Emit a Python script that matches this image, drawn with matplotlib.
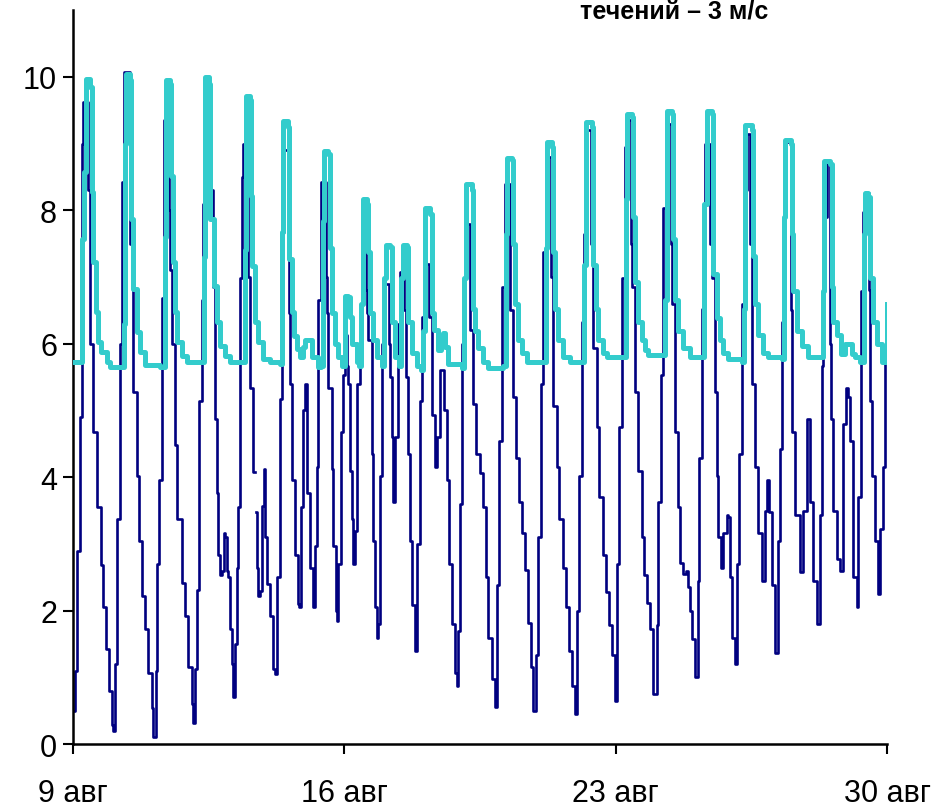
import numpy as np
import matplotlib
matplotlib.use("Agg")
import matplotlib.pyplot as plt

plt.rcParams['font.family'] = ['Liberation Sans', 'DejaVu Sans']

##### Data (time in days from 9 Aug 00:00)
navy_days = [
    0.00, 0.05, 0.10, 0.18, 0.23, 0.26, 0.39, 0.44, 0.52, 0.62, 0.72, 0.77,
    0.85, 0.93, 1.01, 1.03, 1.08, 1.14, 1.21, 1.26, 1.32, 1.47, 1.52, 1.55,
    1.65, 1.70, 1.78, 1.86, 1.94, 2.04, 2.06, 2.14, 2.17, 2.22, 2.30, 2.35,
    2.48, 2.50, 2.55, 2.63, 2.68, 2.81, 2.89, 2.97, 3.07, 3.10, 3.15, 3.20,
    3.25, 3.33, 3.35, 3.41, 3.53, 3.61, 3.66, 3.72, 3.74, 3.79, 3.84, 3.90,
    3.92, 3.97, 4.00, 4.05, 4.10, 4.13, 4.18, 4.23, 4.26, 4.31, 4.36, 4.39,
    4.52, 4.57, 4.64, 4.70, 4.72, 4.75, 4.77, 4.82, 4.88, 4.93, 4.95, 5.01,
    5.08, 5.16, 5.21, 5.26, 5.34, 5.39, 5.44, 5.55, 5.57, 5.60, 5.65, 5.73,
    5.81, 5.83, 5.88, 5.93, 5.99, 6.04, 6.11, 6.19, 6.24, 6.30, 6.32, 6.40,
    6.53, 6.55, 6.58, 6.68, 6.71, 6.79, 6.81, 6.84, 6.91, 6.97, 7.02, 7.07,
    7.10, 7.15, 7.20, 7.22, 7.28, 7.33, 7.40, 7.46, 7.56, 7.59, 7.61, 7.71,
    7.74, 7.79, 7.84, 7.87, 7.92, 7.97, 8.05, 8.15, 8.18, 8.23, 8.26, 8.31,
    8.39, 8.44, 8.54, 8.59, 8.64, 8.69, 8.75, 8.82, 8.88, 8.95, 9.00, 9.08,
    9.18, 9.26, 9.34, 9.39, 9.47, 9.57, 9.65, 9.70, 9.78, 9.86, 9.91, 9.93,
    9.98, 10.04, 10.11, 10.24, 10.32, 10.40, 10.50, 10.58, 10.66, 10.71,
    10.81, 10.89, 10.94, 10.99, 11.07, 11.15, 11.27, 11.35, 11.43, 11.51,
    11.58, 11.66, 11.74, 11.82, 11.87, 11.95, 12.00, 12.07, 12.13, 12.23,
    12.33, 12.38, 12.49, 12.54, 12.64, 12.72, 12.80, 12.87, 12.95, 13.00,
    13.05, 13.13, 13.18, 13.26, 13.36, 13.42, 13.52, 13.57, 13.67, 13.75,
    13.83, 13.91, 13.98, 14.04, 14.09, 14.16, 14.24, 14.29, 14.40, 14.42,
    14.50, 14.58, 14.68, 14.73, 14.81, 14.89, 14.96, 15.07, 15.09, 15.17,
    15.22, 15.33, 15.43, 15.45, 15.53, 15.61, 15.66, 15.74, 15.82, 15.87,
    15.92, 15.97, 16.05, 16.13, 16.15, 16.23, 16.31, 16.43, 16.49, 16.56,
    16.62, 16.64, 16.72, 16.77, 16.87, 16.90, 16.95, 17.00, 17.08, 17.13,
    17.18, 17.26, 17.31, 17.39, 17.47, 17.52, 17.60, 17.67, 17.78, 17.85,
    17.91, 17.96, 18.03, 18.11, 18.19, 18.24, 18.29, 18.34, 18.40, 18.52,
    18.55, 18.63, 18.76, 18.83, 18.94, 19.01, 19.09, 19.20, 19.27, 19.32,
    19.35, 19.45, 19.53, 19.56, 19.61, 19.71, 19.79, 19.87, 19.94, 20.00,
    20.05, 20.12, 20.23, 20.25, 20.33, 20.38, 20.43, 20.54, 20.56, 20.61,
    20.69, 20.77, 20.82, 20.90, 20.95, 21.00]
navy_vals = [
    0.5, 1.1, 2.9, 4.9, 9.0, 9.62, 8.3, 6.0, 4.68, 3.56, 2.68, 2.05,
    1.43, 0.8, 0.28, 0.2, 1.2, 3.37, 6.0, 8.43, 10.07, 7.5, 6.85, 5.27,
    4.02, 3.04, 2.22, 1.72, 1.07, 0.54, 0.11, 1.1, 2.7, 3.96, 6.69, 9.35,
    8.0, 7.11, 6.0, 4.48, 3.37, 2.41, 1.92, 1.16, 0.6, 0.31, 1.13, 2.31,
    5.14, 6.65, 8.1, 9.87, 8.3, 6.85, 4.88, 3.76, 2.84, 2.54, 2.6, 3.17,
    3.1, 2.6, 2.5, 1.72, 1.2, 0.7, 1.5, 2.64, 3.56, 6.98, 8.5, 9.0,
    7.0, 5.34, 4.08, np.nan, 3.48, 2.64, 2.22, 2.3, 3.57, 4.12, 3.1, 2.4,
    1.92, 1.12, 1.05, 2.5, 5.17, 7.67, 8.9, 7.5, 6.46, 5.4, 3.96, 2.84,
    2.1, 2.05, 3.56, 5.0, 5.4, 3.76, 2.64, 2.05, 2.97, 4.16, 6.65, 8.43,
    7.0, 6.46, 5.34, 4.12, 2.97, 2.0, 1.85, 2.7, 4.68, 5.53, 6.13, 5.67,
    5.4, 4.09, 3.37, 2.7, 3.2, 5.4, 6.52, 7.4, 6.8, 6.46, 6.06, 4.35,
    3.04, 2.05, 1.59, 1.8, 4.02, 6.0, 6.9, 6.0, 5.5, 4.6, 3.63, 4.6,
    6.3, 7.08, 6.5, 5.5, 4.35, 3.04, 2.08, 1.39, 3.0, 5.14, 6.4, 7.2,
    6.4, 4.94, 4.16, 4.6, 5.6, 5.0, 3.96, 2.7, 1.8, 1.07, 0.87, 1.7,
    3.6, 6.0, 7.8, 6.2, 5.1, 4.35, 4.06, 3.56, 2.5, 1.59,
    0.97, 0.55, 2.38, 4.55, 6.85, 8.4, 6.5, 5.2, 4.29, 3.63,
    3.17, 2.61, 1.82, 1.16, 0.5, 1.33, 3.1, 5.4, 7.38, 8.8,
    7.0, 5.07, 4.16, 3.37, 2.64, 2.05, 1.39, 0.87, 0.45, 1.99,
    4.02, 6.32, 7.64, 9.2, 7.5, 5.93, 4.75, 3.7, 2.84, 2.28,
    1.79, 1.33, 0.65, 2.7, 4.75, 6.98, 8.95, 9.35, 7.5, 6.85,
    5.27, 4.09, 3.1, 2.54, 2.12, 1.72, 0.75, 1.79, 3.63, 5.53,
    8.03, 9.3, 7.5, 6.59, 4.68, 3.56, 2.71, 2.55, 2.6, 2.35,
    2.0, 1.57, 1.0, 2.45, 4.29, 6.52, 9.0, 7.5, 6.98, 5.27,
    4.02, 3.1, 2.64, 3.17, 3.43, 3.4, 2.51, 1.59, 1.2, 2.7,
    4.35, 6.59, 8.3, 9.15, 7.5, 5.4, 4.16, 3.17, 2.45, 3.5,
    3.96, 3.48, 2.38, 1.36, 3.04, 4.42, 6.32, 8.56, 9.02, 6.5,
    4.68, 3.43, 2.58, 3.5, 4.88, 3.63, 2.45, 1.8, 3.43, 5.67,
    7.9, 8.69, 6.0, 4.88, 3.5, 2.77, 2.6, 4.8, 5.34, 5.2,
    4.55, 2.51, 2.05, 3.7, 6.79, 7.97, 8.26, 6.8, 5.14, 4.02,
    3.04, 2.25, 3.23, 4.16, 5.73, 5.9]

teal_days = [
    0.00, 0.21, 0.23, 0.28, 0.34, 0.44, 0.49, 0.52, 0.59, 0.65, 0.72, 0.88,
    0.95, 1.19, 1.32, 1.34, 1.37, 1.47, 1.50, 1.55, 1.65, 1.73, 1.86, 2.24,
    2.37, 2.40, 2.50, 2.53, 2.58, 2.63, 2.68, 2.81, 2.94, 3.35, 3.38, 3.41,
    3.51, 3.53, 3.64, 3.72, 3.79, 3.92, 4.05, 4.36, 4.44, 4.46, 4.57, 4.59,
    4.62, 4.70, 4.77, 4.90, 5.08, 5.34, 5.39, 5.42, 5.55, 5.57, 5.65, 5.70,
    5.78, 5.86, 5.93, 5.99, 6.09, 6.17, 6.32, 6.40, 6.45, 6.48, 6.58, 6.63,
    6.68, 6.76, 6.84, 6.94, 7.02, 7.09, 7.15, 7.20, 7.33, 7.38, 7.43, 7.48,
    7.59, 7.61, 7.66, 7.74, 7.84, 7.97, 8.02, 8.07, 8.18, 8.23, 8.31, 8.41,
    8.46, 8.51, 8.62, 8.64, 8.75, 8.88, 8.98, 9.03, 9.08, 9.21, 9.26, 9.31,
    9.42, 9.49, 9.55, 9.60, 9.67, 10.04, 10.09, 10.14, 10.29, 10.32, 10.37,
    10.45, 10.58, 10.71, 11.09, 11.17, 11.20, 11.33, 11.35, 11.40, 11.48,
    11.58, 11.71, 12.15, 12.20, 12.23, 12.36, 12.38, 12.44, 12.51, 12.64,
    12.82, 13.13, 13.18, 13.23, 13.39, 13.42, 13.49, 13.55, 13.67, 13.78,
    14.24, 14.27, 14.29, 14.42, 14.45, 14.50, 14.58, 14.68, 14.76, 14.84,
    15.22, 15.27, 15.33, 15.45, 15.48, 15.53, 15.61, 15.74, 15.92, 16.25,
    16.28, 16.36, 16.49, 16.51, 16.62, 16.69, 16.77, 16.90, 17.26, 17.31,
    17.34, 17.52, 17.54, 17.60, 17.67, 17.80, 17.93, 18.29, 18.34, 18.37,
    18.52, 18.55, 18.58, 18.68, 18.81, 18.96, 19.32, 19.35, 19.38, 19.53,
    19.58, 19.61, 19.71, 19.81, 19.92, 20.02, 20.10, 20.18, 20.30, 20.36,
    20.41, 20.43, 20.51, 20.56, 20.64, 20.74, 20.87, 20.95, 21.00]
teal_vals = [
    5.73, 5.73, 7.57, 8.57, 9.97, 9.85, 8.27, 7.22, 6.47, 6.02, 5.87, 5.73,
    5.65, 5.65, 6.3, 9.0, 10.05, 9.95, 7.87, 6.82, 6.17, 5.87, 5.68, 5.65,
    7.6, 9.95, 9.9, 8.52, 7.22, 6.47, 6.02, 5.82, 5.73, 5.73, 7.3, 10.0,
    9.9, 7.87, 6.87, 6.32, 5.97, 5.82, 5.73, 5.73, 7.4, 9.72, 9.65, 8.22,
    7.17, 6.32, 6.02, 5.77, 5.73, 5.7, 7.67, 9.34, 9.25, 7.27, 6.47, 6.12,
    5.92, 5.8, 5.95, 6.06, 6.06, 5.8, 5.65, 5.67, 7.84, 8.89, 8.85, 7.44,
    6.46, 6.0, 5.8, 5.67, 6.72, 6.7, 6.4, 6.0, 5.73, 5.67, 6.59, 8.17,
    8.1, 7.38, 6.46, 6.06, 5.8, 5.67, 6.98, 7.48, 7.45, 6.32, 5.8, 5.67,
    6.98, 7.48, 7.45, 6.32, 5.86, 5.67, 5.6, 6.19, 8.03, 7.95, 6.46, 6.2,
    5.9, 6.1, 6.16, 5.95, 5.7, 5.63, 6.98, 8.4, 8.3, 6.52, 6.19,
    5.93, 5.73, 5.63, 5.67, 7.64, 8.79, 8.75, 7.5, 6.59, 6.06,
    5.86, 5.73, 5.73, 7.44, 9.02, 8.95, 7.38, 6.52, 6.06, 5.8,
    5.73, 5.73, 7.18, 9.32, 9.25, 7.18, 6.52, 6.06, 5.86, 5.8,
    5.8, 8.17, 9.45, 9.4, 7.9, 6.92, 6.32, 6.06, 5.9, 5.83,
    5.83, 6.65, 9.49, 9.45, 7.57, 6.65, 6.19, 5.93, 5.8, 5.8,
    8.1, 9.49, 9.45, 7.05, 6.39, 6.06, 5.86, 5.77, 5.73, 6.52,
    9.28, 9.2, 7.31, 6.59, 6.13, 5.86, 5.8, 5.77, 7.9, 9.05,
    9.0, 7.64, 6.79, 6.19, 5.96, 5.8, 5.8, 6.79, 8.74, 8.7,
    6.85, 6.32, 6.13, 5.85, 6.0, 6.0, 5.85, 5.8, 5.73, 5.73,
    7.64, 8.26, 8.2, 6.98, 6.32, 6.0, 5.73, 5.73, 6.59]

tick_days = [0, 7, 14, 21]
tick_labels = ['9 авг', '16 авг', '23 авг', '30 авг']
y_ticks = [0, 2, 4, 6, 8, 10]

##### Figure
fig = plt.figure(figsize=(9.4, 8.12), dpi=100)
ax = fig.add_axes([0.0777, 0.0825, 0.8660, 0.9036])

# the logger trace is drawn as near-vertical runs with small jogs
ax.plot(navy_days, navy_vals, color='#000080', lw=1.9,
        drawstyle='steps-post', zorder=2)
ax.plot(teal_days, teal_vals, color='#33CCCC', lw=3.6,
        drawstyle='steps-post', zorder=3)

ax.set_xlim(0, 21)
ax.set_ylim(0, 11)
ax.set_xticks(tick_days)
ax.set_xticklabels(tick_labels)
ax.set_yticks(y_ticks)
ax.set_yticklabels([str(v) for v in y_ticks])

for side in ['top', 'right']:
    ax.spines[side].set_visible(False)
for side in ['left', 'bottom']:
    ax.spines[side].set_linewidth(1.8)
    ax.spines[side].set_color('black')

ax.tick_params(axis='both', direction='out', length=7.5, width=1.5,
               colors='black')
ax.tick_params(axis='x', pad=17, labelsize=22)
ax.tick_params(axis='y', pad=4, labelsize=22)

fig.text(0.717, 0.976, 'течений – 3 м/с', ha='center', va='baseline',
         fontsize=18, fontweight='bold')

fig.savefig('out.png', dpi=100)
